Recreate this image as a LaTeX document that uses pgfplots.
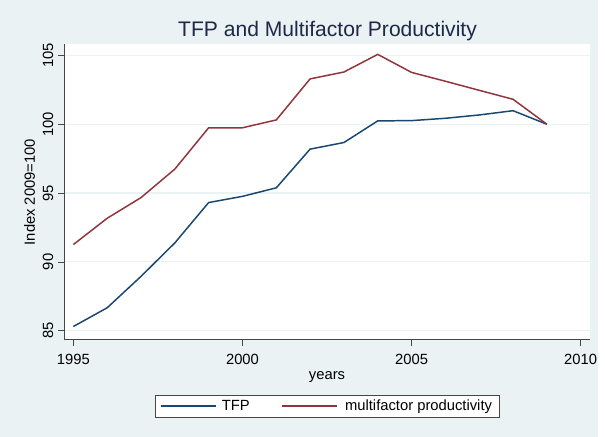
\documentclass[border=0pt]{standalone}
\usepackage{pgfplots}
\pgfplotsset{compat=1.18}
\usepackage{pgfplotstable}
\usepackage{fontspec}
\setmainfont{Liberation Sans}
\definecolor{bgc}{RGB}{234,242,243}
\definecolor{gridc}{RGB}{234,242,243}
\definecolor{navyc}{RGB}{26,71,111}
\definecolor{maroonc}{RGB}{144,53,59}
\definecolor{titlec}{RGB}{30,40,72}
\definecolor{axc}{RGB}{70,70,70}
\pgfplotstableread{
year tfp mfp
1995 85.31 91.26
1996 86.67 93.17
1997 88.95 94.67
1998 91.38 96.74
1999 94.31 99.74
2000 94.76 99.74
2001 95.38 100.31
2002 98.19 103.29
2003 98.67 103.79
2004 100.24 105.07
2005 100.26 103.76
2006 100.43 103.12
2007 100.67 102.46
2008 100.98 101.81
2009 100.00 100.00
}\datatable
\begin{document}
\begin{tikzpicture}[x=1bp,y=1bp]
\fill[bgc] (0,0) rectangle (605,442);
\begin{axis}[
  scale only axis,
  width=531.7bp, height=298.7bp,
  at={(65bp,98.3bp)}, anchor=south west,
  axis background/.style={fill=white},
  axis lines*=left,
  axis line style={color=axc, line width=0.7bp},
  xmin=1994.73, xmax=2010.27,
  ymin=84.35, ymax=105.79,
  xtick={1995,2000,2005,2010},
  ytick={85,90,95,100,105},
  tick align=outside,
  major tick length=6bp,
  every tick/.style={color=axc, line width=0.7bp},
  ymajorgrids,
  grid style={color=gridc, line width=1.2bp},
  /pgf/number format/assume math mode=true,
  /pgf/number format/1000 sep={},
  tick label style={font=\fontsize{15}{18}\selectfont, text=black},
  yticklabel style={rotate=90, anchor=south, inner sep=5bp},
  xticklabel style={inner sep=8bp},
  title={TFP and Multifactor Productivity},
  title style={at={(axis description cs:0.501,1.027)}, anchor=base, yshift=-6pt,
    font=\fontsize{21.4}{24}\selectfont, text=titlec, inner sep=0pt},
  xlabel={years},
  xlabel style={at={(axis description cs:0.5,-0.135)}, anchor=base,
    font=\fontsize{15}{18}\selectfont, inner sep=0pt},
  ylabel={Index 2009=100},
  ylabel style={at={(axis description cs:-0.0658,0.5)}, anchor=center, rotate=0,
    font=\fontsize{15}{18}\selectfont, inner sep=0pt},
  legend columns=2,
  legend style={at={(axis description cs:0.5,-0.225)}, anchor=center,
    draw=axc, line width=0.7bp, fill=white,
    font=\fontsize{15}{18}\selectfont,
    inner xsep=5bp, inner ysep=3bp,
    /tikz/every even column/.append style={column sep=30bp}},
  legend cell align=left,
  legend image code/.code={\draw[#1, line width=1.5bp] (0bp,0bp) -- (56bp,0bp);},
]
\addplot[color=navyc, line width=1.5bp] table[x=year, y=tfp] {\datatable};
\addlegendentry{\hspace{3bp}TFP}
\addplot[color=maroonc, line width=1.5bp] table[x=year, y=mfp] {\datatable};
\addlegendentry{\hspace{5bp}multifactor productivity\hspace{12bp}}
\end{axis}
\end{tikzpicture}
\end{document}
